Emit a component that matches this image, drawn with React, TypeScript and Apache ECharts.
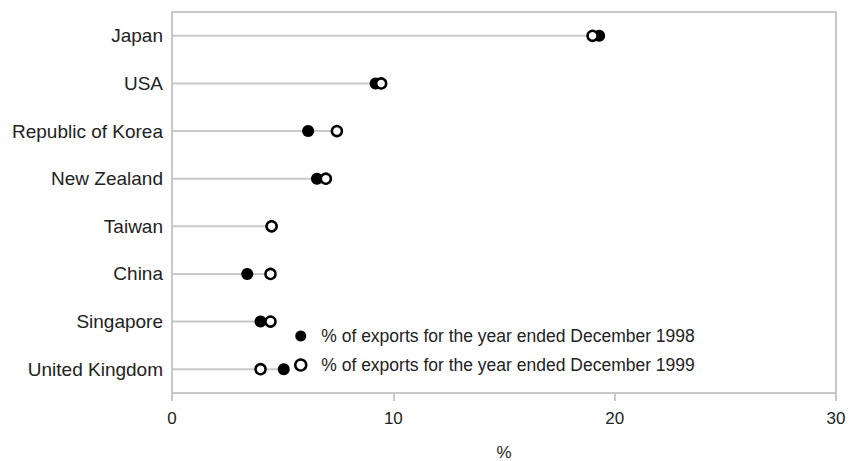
import React, { useEffect, useRef } from "react";
import * as echarts from "echarts";

const countries = [
  "Japan",
  "USA",
  "Republic of Korea",
  "New Zealand",
  "Taiwan",
  "China",
  "Singapore",
  "United Kingdom",
];
const exports1998 = [19.3, 9.2, 6.15, 6.55, 4.5, 3.4, 4.0, 5.05];
const exports1999 = [19.0, 9.45, 7.45, 6.95, 4.5, 4.45, 4.45, 4.0];
const xTicks = [0, 10, 20, 30];
const name1998 = "% of exports for the year ended December 1998";
const name1999 = "% of exports for the year ended December 1999";

export default function App() {
  const ref = useRef<HTMLDivElement>(null);
  useEffect(() => {
    if (!ref.current) return;
    const chart = echarts.init(ref.current, undefined, { renderer: "svg" });
    const lineEnds = countries.map((_, i) => Math.max(exports1998[i], exports1999[i]));
    const font = "'Liberation Sans', Arial, sans-serif";
    chart.setOption({
      animation: false,
      textStyle: { fontFamily: font },
      grid: {
        left: 164,
        right: 13,
        top: 4,
        bottom: 68,
        containLabel: false,
        outerBoundsMode: "none",
        show: true,
        borderColor: "#c8c8c8",
        borderWidth: 2,
        backgroundColor: "transparent",
      },
      legend: {
        data: [
          { name: name1998 },
          { name: name1999, itemStyle: { color: "#fff", borderColor: "#000", borderWidth: 2.5 } },
        ],
        orient: "vertical",
        left: 281,
        top: 314,
        itemWidth: 11,
        itemHeight: 11,
        itemGap: 11,
        icon: "circle",
        textStyle: { fontSize: 17.5, color: "#222", fontFamily: font, padding: [0, 0, 0, 10], lineHeight: 16 },
      },
      xAxis: {
        type: "value",
        min: xTicks[0],
        max: xTicks[xTicks.length - 1],
        interval: 10,
        name: "%",
        nameLocation: "middle",
        nameGap: 51,
        nameTextStyle: { fontSize: 17, color: "#222" },
        axisLine: { show: true, lineStyle: { color: "#c8c8c8", width: 2 } },
        axisTick: { show: true, length: 8, lineStyle: { color: "#c8c8c8", width: 2 } },
        axisLabel: { fontSize: 17, color: "#222", margin: 17 },
        splitLine: { show: false },
      },
      yAxis: {
        type: "category",
        inverse: true,
        data: countries,
        axisLine: { show: true, lineStyle: { color: "#c8c8c8", width: 2 } },
        axisTick: { show: false },
        axisLabel: { fontSize: 19, color: "#222", margin: 9 },
        splitLine: { show: false },
      },
      series: [
        {
          type: "bar",
          name: "line",
          data: lineEnds,
          barWidth: 2,
          itemStyle: { color: "#c8c8c8" },
          silent: true,
          z: 1,
        },
        {
          type: "scatter",
          name: name1998,
          data: exports1998.map((v, i) => [v, countries[i]]),
          symbol: "circle",
          symbolSize: 12,
          itemStyle: { color: "#000", opacity: 1 },
          z: 3,
        },
        {
          type: "scatter",
          name: name1999,
          data: exports1999.map((v, i) => [v, countries[i]]),
          symbol: "circle",
          symbolSize: 10,
          itemStyle: { color: "#fff", borderColor: "#000", borderWidth: 2.5, opacity: 1 },
          z: 4,
        },
      ],
    });
    return () => chart.dispose();
  }, []);
  return <div ref={ref} style={{ width: 841, height: 453 }} />;
}
